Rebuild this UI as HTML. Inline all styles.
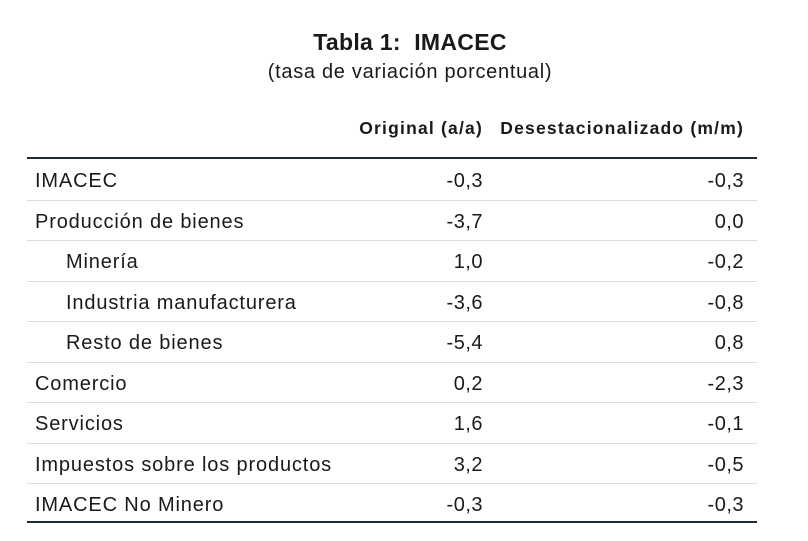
<!DOCTYPE html>
<html><head><meta charset="utf-8"><style>
body{margin:0;width:808px;height:541px;background:#fff;font-family:"Liberation Sans",sans-serif;color:#1a1a1a;position:relative;overflow:hidden}
.a{position:absolute;white-space:nowrap}
.t{left:0;width:820px;text-align:center}
.r{text-align:right}
.line{position:absolute;left:27px;width:730px}
</style></head><body>
<div class="a t" style="top:29px;font-size:23px;font-weight:bold;letter-spacing:0.3px">Tabla 1:&nbsp; IMACEC</div>
<div class="a t" style="top:61px;font-size:20px;letter-spacing:0.7px">(tasa de variación porcentual)</div>
<div class="a r" style="top:118px;right:325px;font-size:17.5px;font-weight:bold;letter-spacing:1.2px">Original (a/a)</div>
<div class="a r" style="top:118px;right:64px;font-size:17.5px;font-weight:bold;letter-spacing:1.2px">Desestacionalizado (m/m)</div>
<div class="line" style="top:157px;height:2px;background:#1c2b3c"></div>
<div id="rows"></div>
<div class="line" style="top:521px;height:2px;background:#1c2b3c"></div>
<script>
const labels=["IMACEC","Producción de bienes","Minería","Industria manufacturera","Resto de bienes","Comercio","Servicios","Impuestos sobre los productos","IMACEC No Minero"];
const indent=[0,0,1,1,1,0,0,0,0];
const original=["-0,3","-3,7","1,0","-3,6","-5,4","0,2","1,6","3,2","-0,3"];
const desest=["-0,3","0,0","-0,2","-0,8","0,8","-2,3","-0,1","-0,5","-0,3"];
const c=document.getElementById('rows');
const top0=159,h=40.5;
labels.forEach((l,i)=>{
  const y=top0+i*h;
  const lab=document.createElement('div');
  lab.className='a';
  
  
  lab.style.cssText=`top:${y+11}px;left:${indent[i]?66:35}px;font-size:20px;letter-spacing:0.85px`;
  lab.textContent=l;c.appendChild(lab);
  const o=document.createElement('div');
  o.className='a r';
  
  
  o.style.cssText=`top:${y+11}px;right:325px;font-size:20px;letter-spacing:0.5px`;
  o.textContent=original[i];c.appendChild(o);
  const d=document.createElement('div');
  d.className='a r';
  
  
  d.style.cssText=`top:${y+11}px;right:64px;font-size:20px;letter-spacing:0.5px`;
  d.textContent=desest[i];c.appendChild(d);
  if(i<labels.length-1){
    const s=document.createElement('div');
    s.className='line';
    
    
    s.style.cssText=`top:${y+h}px;height:1px;background:#dcdcdc`;
    c.appendChild(s);
  }
});
</script>
</body></html>
